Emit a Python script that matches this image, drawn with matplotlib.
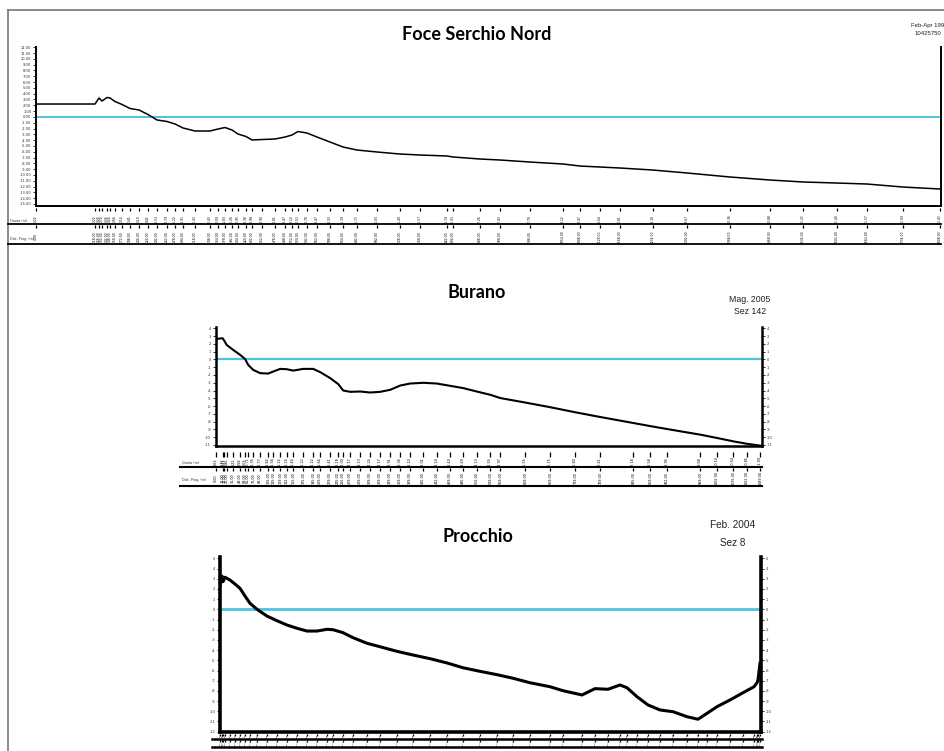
import matplotlib
matplotlib.use('Agg')
import matplotlib.pyplot as plt
from matplotlib import transforms
from matplotlib.lines import Line2D

W, H = 944, 751
SEA = '#4ec3df'

# Foce Serchio Nord: progressive distance (m) and elevation (m)
serchio_dist = [0, 118, 126, 132, 142, 148, 158, 172, 188, 206,
                224, 242, 262, 278, 294, 318, 348, 364, 378, 392,
                404, 420, 432, 452, 478, 498, 512, 524, 542, 562,
                588, 614, 642, 682, 728, 768, 822, 834, 888, 928,
                988, 1054, 1088, 1128, 1168, 1234, 1302, 1388, 1468, 1534,
                1602, 1662, 1734, 1808]
serchio_quota = [2.22, 2.22, 3.26, 2.74, 3.34, 3.26, 2.66, 2.14, 1.45, 1.19,
                 0.41, -0.53, -0.79, -1.22, -1.91, -2.43, -2.43, -2.09, -1.83, -2.26,
                 -2.95, -3.38, -3.98, -3.90, -3.81, -3.47, -3.12, -2.52, -2.78, -3.47,
                 -4.33, -5.19, -5.71, -6.05, -6.40, -6.57, -6.74, -6.91, -7.26, -7.43,
                 -7.78, -8.12, -8.47, -8.64, -8.81, -9.16, -9.67, -10.36, -10.88, -11.22,
                 -11.40, -11.57, -12.09, -12.43]
serchio_yticks = list(range(12, -16, -1))

# Burano, Sez 142
burano_dist = [0, 14, 17, 22, 35, 49, 59, 65, 75, 89,
               105, 115, 129, 142, 155, 175, 195, 209, 229, 245,
               255, 269, 289, 309, 329, 349, 369, 389, 415, 442,
               469, 495, 522, 549, 569, 619, 669, 719, 769, 835,
               869, 902, 969, 1002, 1035, 1062, 1089]
burano_quota = [2.63, 2.72, 2.41, 1.86, 1.22, 0.58, 0.03, -0.71, -1.35, -1.77,
                -1.82, -1.56, -1.22, -1.26, -1.44, -1.22, -1.22, -1.64, -2.41, -3.18,
                -4.00, -4.17, -4.13, -4.26, -4.17, -3.91, -3.36, -3.10, -3.01, -3.10,
                -3.40, -3.69, -4.13, -4.55, -4.97, -5.55, -6.15, -6.80, -7.41, -8.18,
                -8.58, -8.95, -9.68, -10.10, -10.54, -10.85, -11.09]
burano_yticks = list(range(4, -12, -1))

# Procchio, Sez 8
procchio_dist = [0, 2, 3, 5, 10, 15, 20, 25, 30, 37,
                 47, 57, 67, 77, 87, 97, 107, 113, 123, 133,
                 147, 160, 177, 193, 210, 227, 243, 260, 277, 293,
                 310, 330, 343, 362, 375, 388, 400, 407, 417, 428,
                 440, 453, 467, 478, 487, 497, 510, 523, 534, 537,
                 538, 540]
procchio_quota = [2.28, 3.26, 2.71, 3.14, 2.87, 2.48, 2.06, 1.30, 0.59, 0.00,
                  -0.66, -1.12, -1.54, -1.86, -2.13, -2.13, -1.96, -2.00, -2.29, -2.78,
                  -3.33, -3.67, -4.12, -4.48, -4.84, -5.26, -5.73, -6.08, -6.41, -6.76,
                  -7.20, -7.59, -7.98, -8.40, -7.78, -7.84, -7.42, -7.69, -8.57, -9.38,
                  -9.87, -10.04, -10.53, -10.78, -10.20, -9.55, -8.89, -8.18, -7.59, -7.20,
                  -6.93, -5.29]
procchio_yticks = list(range(5, -13, -1))


def fy(p):
    return 1 - p / H


def fig_rect(x0, y0, x1, y1):
    return [x0 / W, 1 - y1 / H, (x1 - x0) / W, (y1 - y0) / H]


def hline(fig, x0, x1, y, lw=1.0, color='black'):
    fig.add_artist(Line2D([x0 / W, x1 / W], [fy(y), fy(y)], transform=fig.transFigure,
                          lw=lw, color=color))


def draw_profile(fig, box, dist, quota, xmax, ylim, yticks, fmt, line_w, spine_w, sea_w,
                 right_labels):
    ax = fig.add_axes(fig_rect(*box))
    ax.plot(dist, quota, color='black', lw=line_w, solid_joinstyle='round', zorder=3)
    ax.axhline(0, color=SEA, lw=sea_w, zorder=2)
    ax.set_xlim(0, xmax)
    ax.set_ylim(*ylim)
    ax.set_yticks(yticks)
    ax.set_yticklabels([fmt % t for t in yticks])
    ax.set_xticks([])
    ax.spines['top'].set_visible(False)
    for s in ('left', 'right', 'bottom'):
        ax.spines[s].set_linewidth(spine_w)
    ax.tick_params(axis='y', labelsize=2.6, length=2.2, width=0.7, pad=1.2,
                   right=right_labels, labelright=right_labels, colors='#333333')
    return ax


def draw_table(fig, ax, dist, quota, tick1, quota_y, line1, tick2, dist_y, line2,
               x0, x1, lw, fs, label_x):
    tr = transforms.blended_transform_factory(ax.transData, fig.transFigure)
    ax.vlines(dist, fy(tick1[1]), fy(tick1[0]), transform=tr, colors='black',
              lw=0.9, clip_on=False)
    ax.vlines(dist, fy(tick2[1]), fy(tick2[0]), transform=tr, colors='black',
              lw=0.9, clip_on=False)
    for d, q in zip(dist, quota):
        ax.text(d, fy(quota_y), '%.2f' % q, rotation=90, fontsize=fs, ha='center',
                va='center', transform=tr, clip_on=False, color='black')
        ax.text(d, fy(dist_y), '%.2f' % d, rotation=90, fontsize=fs, ha='center',
                va='center', transform=tr, clip_on=False, color='black')
    hline(fig, x0, x1, line1, lw)
    hline(fig, x0, x1, line2, lw)
    if label_x is not None:
        fig.text(label_x / W, fy(quota_y + 1), 'Quota (m)', fontsize=2.4,
                 ha='left', va='center', color='#333333')
        fig.text(label_x / W, fy(dist_y + 2), 'Dist. Prog. (m)', fontsize=2.4,
                 ha='left', va='center', color='#333333')


fig = plt.figure(figsize=(W / 100, H / 100), dpi=100)
fig.patch.set_facecolor('white')

# outer sheet border
hline(fig, 8, 944, 10, lw=1.2, color='#777777')
fig.add_artist(Line2D([8 / W, 8 / W], [fy(10), 0], transform=fig.transFigure,
                      lw=1.2, color='#777777'))

title_font = dict(ha='center', va='center', fontsize=13, fontweight='bold',
                  family='Lato', color='black')
note_font = dict(va='center', family='Liberation Sans', color='#222222')

# Foce Serchio Nord
ax1 = draw_profile(fig, (36, 47, 941, 206), serchio_dist, serchio_quota, 1810,
                   (-15.36, 12.05), serchio_yticks, '%.2f', 1.1, 1.4, 1.4, False)
draw_table(fig, ax1, serchio_dist, serchio_quota, (207.5, 211), 219, 224,
           (224.5, 228), 237, 244, 8, 941, 1.3, 2.2, 10)
fig.text(477 / W, fy(35), 'Foce Serchio Nord', **title_font)
fig.text(911 / W, fy(25), 'Feb-Apr 199', fontsize=4.3, ha='left', **note_font)
fig.text(915 / W, fy(33.5), '10425750', fontsize=4.3, ha='left', **note_font)

# Burano
ax2 = draw_profile(fig, (215.7, 327.3, 762.3, 445.7), burano_dist, burano_quota, 1093,
                   (-11.1, 4.13), burano_yticks, '%d', 1.5, 1.8, 1.6, True)
draw_table(fig, ax2, burano_dist, burano_quota, (451.5, 457), 462, 466.7,
           (467.5, 471), 478, 486, 180, 762, 1.5, 2.4, 182)
fig.text(477 / W, fy(293), 'Burano', **title_font)
fig.text(750 / W, fy(299), 'Mag. 2005', fontsize=6.3, ha='center', **note_font)
fig.text(750 / W, fy(312), 'Sez 142', fontsize=6.3, ha='center', **note_font)

# Procchio
ax3 = draw_profile(fig, (220, 556.7, 760.7, 732.3), procchio_dist, procchio_quota, 540.7,
                   (-12.06, 5.16), procchio_yticks, '%d', 2.2, 2.6, 2.0, True)
draw_table(fig, ax3, procchio_dist, procchio_quota, (733.5, 735.5), 735.5, 738.5,
           (739.5, 741.5), 743, 746.5, 212, 762, 1.8, 1.2, None)
fig.text(478 / W, fy(537), 'Procchio', **title_font)
fig.text(733 / W, fy(525.5), 'Feb. 2004', fontsize=7.2, ha='center', **note_font)
fig.text(733 / W, fy(543.5), 'Sez 8', fontsize=7.2, ha='center', **note_font)

fig.savefig('out.png', dpi=100)
